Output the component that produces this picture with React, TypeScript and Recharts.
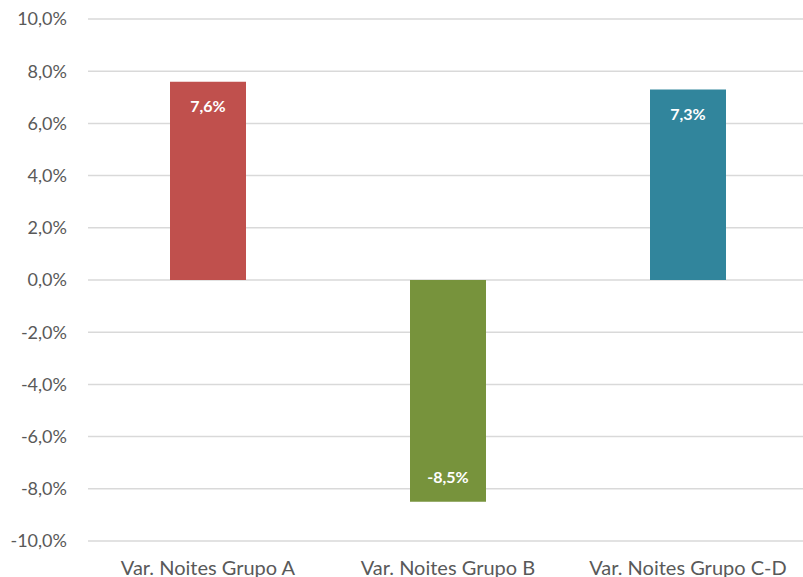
import { BarChart, Bar, XAxis, YAxis, CartesianGrid, Cell, LabelList } from 'recharts';

const categories = ['Var. Noites Grupo A', 'Var. Noites Grupo B', 'Var. Noites Grupo C-D'];
const variation = [7.6, -8.5, 7.3];
const barColors = ['#C0504D', '#77933C', '#31859C'];
const yTicks = [-10, -8, -6, -4, -2, 0, 2, 4, 6, 8, 10];

const data = categories.map((name, i) => ({ name, value: variation[i] }));

const pct = (v: number) => `${v.toFixed(1).replace('.', ',')}%`;

export default function App() {
  return (
    <div style={{ position: 'absolute', left: 0, top: 0, width: 803, height: 577, overflow: 'hidden', background: '#fff' }}>
      <BarChart
        width={808}
        height={600}
        data={data}
        margin={{ top: 19, right: 0, left: 0, bottom: 0 }}
        style={{ fontFamily: 'Lato, sans-serif' }}
      >
        <CartesianGrid vertical={false} stroke="#d9d9d9" strokeWidth={1.5} />
        <XAxis
          dataKey="name"
          height={59}
          axisLine={false}
          tickLine={false}
          tickSize={0}
          tickMargin={20}
          interval={0}
          tick={{ fill: '#595959', fontSize: 20 }}
        />
        <YAxis
          domain={[-10, 10]}
          ticks={yTicks}
          width={88}
          axisLine={false}
          tickLine={false}
          tickSize={0}
          tickMargin={21}
          tickFormatter={pct}
          tick={{ fill: '#595959', fontSize: 18 }}
        />
        <Bar dataKey="value" barSize={76} isAnimationActive={false}>
          {data.map((_, i) => (
            <Cell key={`c-${i}`} fill={barColors[i]} />
          ))}
          <LabelList
            dataKey="value"
            position="insideTop"
            offset={19}
            formatter={(v: number) => pct(v)}
            fill="#ffffff"
            style={{ fontWeight: 700, fontSize: 16 }}
          />
        </Bar>
      </BarChart>
    </div>
  );
}
